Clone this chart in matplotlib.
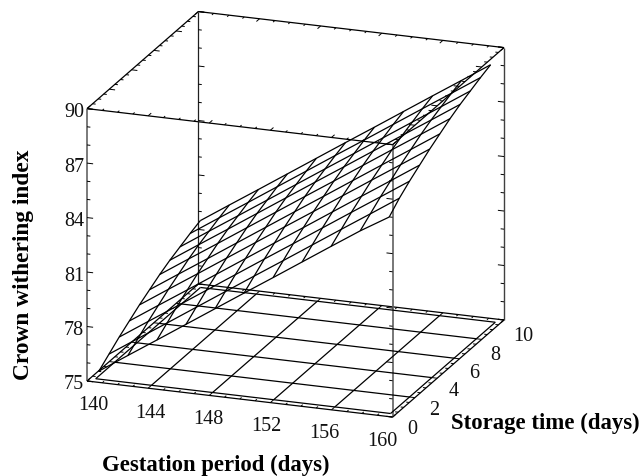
import matplotlib
matplotlib.use('Agg')
import matplotlib.pyplot as plt
from mpl_toolkits.mplot3d import proj3d

import numpy as np

gestation_ticks = [140, 144, 148, 152, 156, 160]
storage_ticks = [0, 2, 4, 6, 8, 10]
index_ticks = [75, 78, 81, 84, 87, 90]
gestation_minor = list(range(140, 161))
storage_minor = [0, 0.5, 1, 1.5, 2, 2.5, 3, 3.5, 4, 4.5, 5, 5.5, 6, 6.5, 7, 7.5, 8, 8.5, 9, 9.5, 10]
index_minor = list(range(75, 91))

mesh_gestation = [140.45, 142.35, 144.25, 146.15, 148.05, 149.95, 151.85, 153.75, 155.65, 157.55, 159.45]
mesh_storage = [0.45, 1.36, 2.27, 3.18, 4.09, 5.0, 5.91, 6.82, 7.73, 8.64, 9.55]
# one row per storage time
withering = [
    [75.35, 76.40, 77.44, 78.49, 79.54, 80.59, 81.63, 82.68, 83.73, 84.77, 85.72],
    [75.80, 76.85, 77.89, 78.94, 79.99, 81.04, 82.08, 83.13, 84.18, 85.22, 86.27],
    [76.25, 77.30, 78.34, 79.39, 80.44, 81.49, 82.53, 83.58, 84.63, 85.67, 86.72],
    [76.65, 77.70, 78.74, 79.79, 80.84, 81.89, 82.93, 83.98, 85.03, 86.07, 87.12],
    [77.05, 78.10, 79.14, 80.19, 81.24, 82.29, 83.33, 84.38, 85.43, 86.47, 87.52],
    [77.40, 78.45, 79.49, 80.54, 81.59, 82.64, 83.68, 84.73, 85.78, 86.82, 87.87],
    [77.75, 78.80, 79.84, 80.89, 81.94, 82.99, 84.03, 85.08, 86.13, 87.17, 88.22],
    [78.05, 79.10, 80.14, 81.19, 82.24, 83.29, 84.33, 85.38, 86.43, 87.47, 88.52],
    [78.30, 79.35, 80.39, 81.44, 82.49, 83.54, 84.58, 85.63, 86.68, 87.72, 88.77],
    [78.55, 79.60, 80.64, 81.69, 82.74, 83.79, 84.83, 85.88, 86.93, 87.97, 89.02],
    [78.77, 79.82, 80.86, 81.91, 82.96, 84.01, 85.05, 86.10, 87.15, 88.19, 89.24],
]

W, H = 644, 477
plt.rcParams['font.family'] = ['Liberation Serif', 'DejaVu Serif']

fig = plt.figure(figsize=(W / 100, H / 100), dpi=100)
S = 500
ax = fig.add_axes([0, 0, S / W, S / H], projection='3d', proj_type='ortho')
ax.view_init(elev=18.7, azim=-69.8)
ax.set_box_aspect((325, 322, 287))
ax.set_xlim(140, 160, view_margin=0)
ax.set_ylim(0, 10, view_margin=0)
ax.set_zlim(75, 90, view_margin=0)
ax.set_axis_off()


def to_px(x, y, z):
    xs, ys, _ = proj3d.proj_transform(x, y, z, ax.get_proj())
    return ax.transData.transform((xs, ys))


# put the box where it sits in the reference
fig.canvas.draw()
a = to_px(140, 0, 75)
c = to_px(160, 10, 75)
scale = (504 - 87) / (c[0] - a[0])
ax.set_position([(87 - a[0] * scale) / W, (H - 382 - a[1] * scale) / H, S * scale / W, S * scale / H])
fig.canvas.draw()


def seg(x, y, z, color='k', lw=0.9):
    ax.plot(x, y, z, color=color, lw=lw, clip_on=False, solid_capstyle='butt')


# box edges
for y0 in [0, 10]:
    for z0 in [75, 90]:
        seg([140, 160], [y0, y0], [z0, z0])
for x0 in [140, 160]:
    for z0 in [75, 90]:
        seg([x0, x0], [0, 10], [z0, z0])
seg([140, 140], [0, 0], [75, 90], color='#707070', lw=1.3)
seg([160, 160], [0, 0], [75, 90], color='#606060', lw=1.2)
seg([160, 160], [10, 10], [75, 90], color='#404040', lw=1.0)
seg([140, 140], [10, 10], [75, 90], color='#202020', lw=0.9)

# ticks point into the box faces
for y0, sign in [(0, 1), (10, -1)]:
    for z0 in [75, 90]:
        for x0 in gestation_minor:
            ln = 0.28 if x0 in gestation_ticks else 0.16
            seg([x0, x0], [y0, y0 + sign * ln], [z0, z0], lw=0.7)
for x0, sign in [(140, 1), (160, -1)]:
    for z0 in [75, 90]:
        for y0 in storage_minor:
            ln = 0.38 if y0 in storage_ticks else 0.2
            seg([x0, x0 + sign * ln], [y0, y0], [z0, z0], lw=0.7)
for x0, y0, sign in [(140, 0, 1), (140, 10, 1), (160, 0, -1), (160, 10, -1)]:
    for z0 in index_minor:
        ln = 0.4 if z0 in index_ticks else 0.22
        seg([x0, x0 + sign * ln], [y0, y0], [z0, z0], lw=0.7)

# floor grid
x_in = [140.35, 159.65]
y_in = [0.3, 9.7]
for y0 in y_in + storage_ticks[1:-1]:
    seg(x_in, [y0, y0], [75, 75])
for x0 in x_in + gestation_ticks[1:-1]:
    seg([x0, x0], y_in, [75, 75])

X, Y = np.meshgrid(mesh_gestation, mesh_storage)
ax.plot_wireframe(X, Y, np.array(withering), color='k', lw=0.9, clip_on=False)


def label(px, py, s, **kw):
    fig.text(px / W, py / H, s, ha=kw.pop('ha', 'center'), va=kw.pop('va', 'center'), **kw)


tick_fs = 14.5
x_off = [(6, -24), (2, -24), (-1, -23), (-4, -23), (-7, -23), (-10, -23)]
for v, off in zip(gestation_ticks, x_off):
    p = to_px(v, 0, 75)
    label(p[0] + off[0], p[1] + off[1], str(v), fontsize=tick_fs, color='#111111')
y_off = [(20, -11), (19, -12), (17, -12), (15, -14), (14, -15), (19, -16)]
for v, off in zip(storage_ticks, y_off):
    p = to_px(160, v, 75)
    label(p[0] + off[0], p[1] + off[1], str(v), fontsize=tick_fs, color='#111111')
for v in index_ticks:
    p = to_px(140, 0, v)
    label(p[0] - 3, p[1] - 3, str(v), ha='right', fontsize=tick_fs, color='#111111')

label(216, H - 465.5, 'Gestation period (days)', fontsize=16.4, fontweight='bold')
label(545, H - 423, 'Storage time (days)', fontsize=16.4, fontweight='bold')
label(24, H - 265, 'Crown withering index', rotation=90, fontsize=16.8, fontweight='bold')

fig.savefig('out.png', dpi=100)
